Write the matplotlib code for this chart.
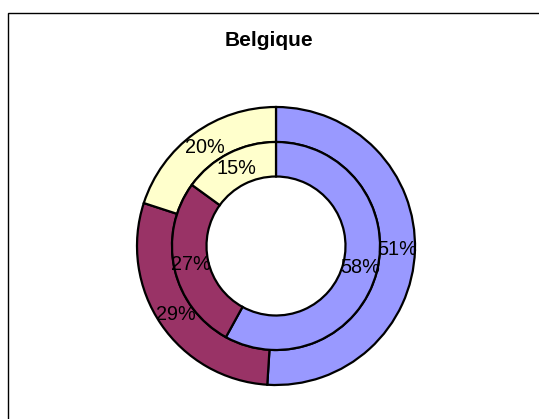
import matplotlib
matplotlib.use("Agg")
import matplotlib.pyplot as plt
from matplotlib.patches import Rectangle

plt.rcParams['font.family'] = ['Liberation Sans', 'DejaVu Sans']

# data
categories = ['A', 'B', 'C']
outer_values = [51, 29, 20]
inner_values = [58, 27, 15]
colors = ['#9999FF', '#993366', '#FFFFCC']

W, H = 539, 419
fig = plt.figure(figsize=(W / 100, H / 100), dpi=100)
ax = fig.add_axes([0, 0, 1, 1])

cx, cy = 276, H - 246
r_out, r_mid, r_in = 139, 104, 69.5
edge = dict(edgecolor='black', linewidth=1.6)

# outer ring
ax.pie(outer_values, colors=colors, radius=r_out, center=(cx, cy),
       startangle=90, counterclock=False, autopct='%1.0f%%',
       pctdistance=(r_out + r_mid) / 2 / r_out,
       wedgeprops=dict(width=r_out - r_mid, **edge),
       textprops=dict(fontsize=14.3, color='black'), frame=True)

# inner ring
ax.pie(inner_values, colors=colors, radius=r_mid, center=(cx, cy),
       startangle=90, counterclock=False, autopct='%1.0f%%',
       pctdistance=(r_mid + r_in) / 2 / r_mid,
       wedgeprops=dict(width=r_mid - r_in, **edge),
       textprops=dict(fontsize=14.3, color='black'), frame=True)

ax.set_xlim(0, W)
ax.set_ylim(0, H)
ax.set_aspect('equal')
ax.axis('off')

# chart border (runs off right and bottom edges)
fig.patches.append(Rectangle((8 / W, -0.1), 2, 1 - 13 / H + 0.1,
                             transform=fig.transFigure, fill=False,
                             edgecolor='black', linewidth=1.0))

fig.text(268.5 / W, 1 - 40 / H, 'Belgique', ha='center', va='center',
         fontsize=15, fontweight='bold')

fig.savefig('out.png', dpi=100)
